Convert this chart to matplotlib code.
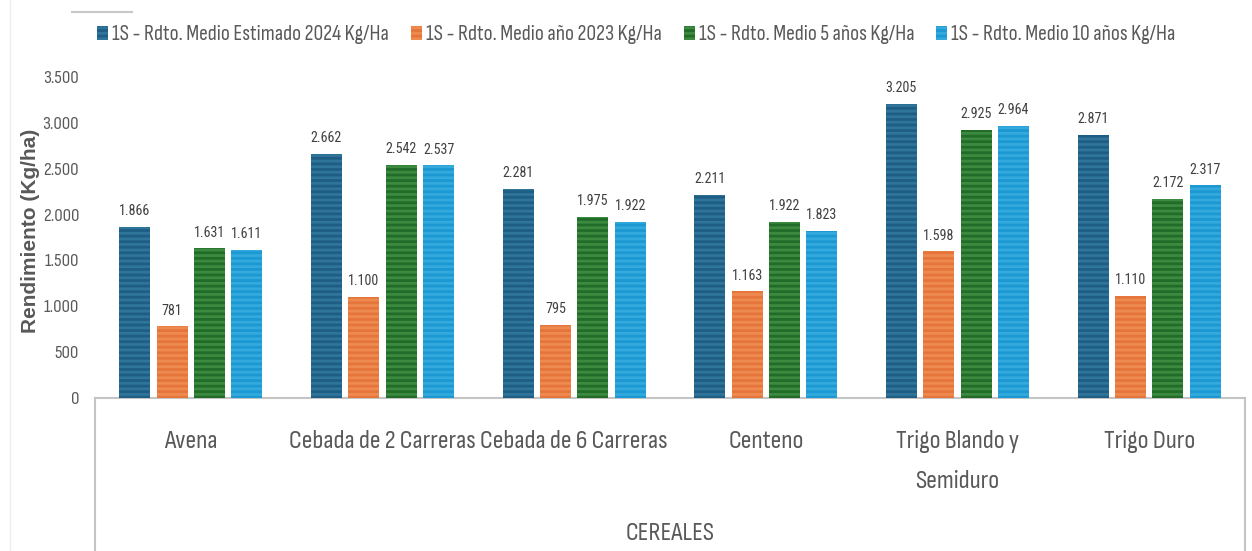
import numpy as np
import matplotlib
matplotlib.use("Agg")
import matplotlib.pyplot as plt
from matplotlib.patches import Rectangle
from matplotlib.lines import Line2D
from matplotlib.font_manager import FontProperties

# data
categories = ["Avena", "Cebada de 2 Carreras", "Cebada de 6 Carreras", "Centeno",
              "Trigo Blando y\nSemiduro", "Trigo Duro"]
series_names = ["1S - Rdto. Medio Estimado 2024 Kg/Ha",
                "1S - Rdto. Medio año 2023 Kg/Ha",
                "1S - Rdto. Medio 5 años Kg/Ha",
                "1S - Rdto. Medio 10 años Kg/Ha"]
est_2024 = [1866, 2662, 2281, 2211, 3205, 2871]
anio_2023 = [781, 1100, 795, 1163, 1598, 1110]
medio_5 = [1631, 2542, 1975, 1922, 2925, 2172]
medio_10 = [1611, 2537, 1922, 1823, 2964, 2317]
group_label = "CEREALES"
y_label = "Rendimiento (Kg/ha)"
yticks = [0, 500, 1000, 1500, 2000, 2500, 3000, 3500]

fills = ["#2f7499", "#ee8a50", "#3b8a3f", "#33a9dd"]
stripes = ["#1f5e84", "#e5753a", "#226c29", "#1c98d2"]
text_col = "#595959"
FONT = ['Sofia Sans Condensed', 'Roboto Condensed', 'DejaVu Sans']
LBL_FONT = ['Roboto Condensed', 'DejaVu Sans']

plt.rcParams['font.family'] = FONT
plt.rcParams['hatch.linewidth'] = 2.0

W, H = 1252, 551
fig = plt.figure(figsize=(W / 100, H / 100), dpi=100)
renderer = fig.canvas.get_renderer()


def fit_size(s, target_px, family=FONT, weight='normal'):
    # font size that makes s about target_px wide
    prop = FontProperties(family=family, size=10, weight=weight)
    w, _, _ = renderer.get_text_width_height_descent(s, prop, ismath=False)
    return 10 * target_px / w


def fx(px):
    return px / W


def fy(py):
    return 1 - py / H


def fmt(v):
    return f"{v:,}".replace(",", ".")


ax = fig.add_axes([fx(95), fy(398), fx(1150), 321 / H])

x = np.arange(len(categories))
pitch = 0.195
width = 0.162
all_series = [est_2024, anio_2023, medio_5, medio_10]

lbl_size = fit_size("1.866", 31, family=LBL_FONT)
for i, vals in enumerate(all_series):
    pos = x + (i - 1.5) * pitch
    ax.bar(pos, vals, width, color=fills[i], edgecolor='none', zorder=2)
    ax.bar(pos, vals, width, color='none', edgecolor=stripes[i], hatch='---',
           linewidth=0, zorder=3)
    for p, v in zip(pos, vals):
        ax.annotate(fmt(v), (p, v), xytext=(0, 8.5), textcoords='offset points',
                    ha='center', va='baseline', fontsize=lbl_size, color='#404040',
                    family=LBL_FONT, annotation_clip=False)

ax.set_xlim(-0.5, len(categories) - 0.5)
ax.set_ylim(0, 3500)
ax.set_yticks(yticks)
ax.set_yticklabels([fmt(t) for t in yticks])
ax.tick_params(axis='y', length=0, labelsize=fit_size("3.500", 36),
               labelcolor=text_col, pad=11.5)
ax.set_xticks([])
for s in ['top', 'right', 'left']:
    ax.spines[s].set_visible(False)
ax.spines['bottom'].set_color('#c4c4c4')
ax.spines['bottom'].set_linewidth(1.5)

# category labels under the axis, one text per line
cat_size = fit_size("Cebada de 2 Carreras", 185)
for xi, lab in zip(x, categories):
    cx = 95 + (xi + 0.5) * 1150 / len(categories)
    for k, line in enumerate(lab.split("\n")):
        fig.text(fx(cx), fy(448 + 40 * k), line, ha='center', va='baseline',
                 fontsize=cat_size, color=text_col)
fig.text(fx(670), fy(534), group_label, ha='center', va='center',
         fontsize=fit_size(group_label, 89), color=text_col)

# outer lines of the category box and frame remnants
fig.add_artist(Line2D([fx(95), fx(95)], [0, fy(398)], color='#c4c4c4', lw=1.5))
fig.add_artist(Line2D([fx(1245), fx(1245)], [0, fy(398)], color='#c4c4c4', lw=1.5))
fig.add_artist(Line2D([fx(10), fx(10)], [0, 1], color='#eeeeee', lw=1))
fig.add_artist(Line2D([fx(72), fx(132)], [fy(12), fy(12)], color='#c8c8c8', lw=1.5))

fig.text(fx(31), fy(231), y_label, rotation=90, ha='center', va='center',
         family='Liberation Sans', fontweight='bold', color=text_col,
         fontsize=fit_size(y_label, 204, family='Liberation Sans', weight='bold'))

# legend drawn by hand to keep the reference spacing
leg_size = fit_size(series_names[0], 276)
lx = 97
for i, name in enumerate(series_names):
    fig.add_artist(Rectangle((fx(lx), fy(40)), 11 / W, 14 / H, facecolor=fills[i],
                             edgecolor=stripes[i], hatch='---', linewidth=0))
    t = fig.text(fx(lx + 15), fy(33), name, ha='left', va='center_baseline',
                 fontsize=leg_size, color=text_col)
    prop = FontProperties(family=FONT, size=leg_size)
    w, _, _ = renderer.get_text_width_height_descent(name, prop, ismath=False)
    lx = lx + 15 + w + 22

fig.savefig("out.png", dpi=100)
